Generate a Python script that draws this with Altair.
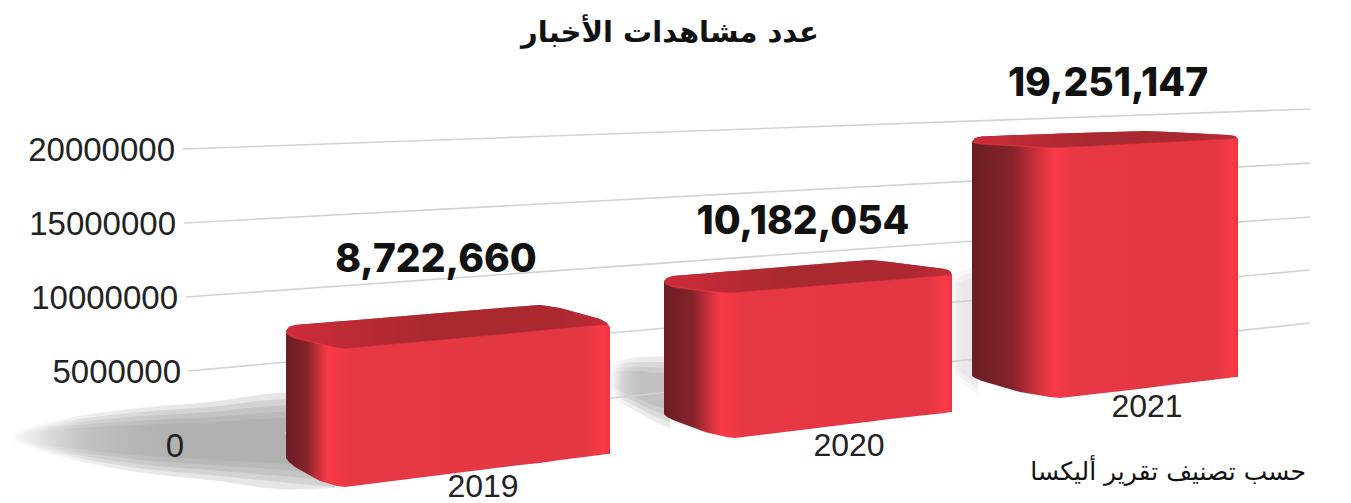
import altair as alt
import pandas as pd

# chart values
years = ["2019", "2020", "2021"]
views = [8722660, 10182054, 19251147]
view_label_x = [436, 803, 1108]
view_label_m = [12.50, 15.06, 24.39]
year_label_x = [483, 849, 1147]
year_label_m = [-2.84, -0.07, 2.57]

ticks = [0, 5000000, 10000000, 15000000, 20000000]
tick_labels = ["0", "5000000", "10000000", "15000000", "20000000"]
tick_label_right = [184, 181, 178, 176, 175]
grid_start_x = [285, 188, 186, 184, 183]
grid_start_m = [0.80, 5.0, 10.0, 15.0, 20.0]
grid_end_m = [8.24, 11.82, 15.41, 19.05, 22.70]
GRID_END = 1310

# outlines of the bars (x position, heights in millions)
bar_x = {
    "2019": [286, 289, 295, 320, 337, 345, 520, 540, 560, 600, 607, 610],
    "2020": [664, 667, 673, 705, 726, 735, 850, 871, 890, 945, 950, 952],
    "2021": [972, 975, 982, 1020, 1050, 1060, 1130, 1147, 1170, 1228, 1235, 1238],
}
bar_top = {
    "2019": [7.70, 7.97, 8.11, 8.24, 8.34, 8.38, 9.36, 9.46, 9.26, 8.51, 8.24, 7.91],
    "2020": [11.08, 11.28, 11.42, 11.59, 11.72, 11.76, 12.40, 12.50, 12.37, 11.89, 11.76, 11.49],
    "2021": [20.47, 20.74, 20.85, 20.95, 21.01, 21.05, 21.18, 21.22, 21.15, 20.95, 20.88, 20.68],
}
bar_bottom = {
    "2019": [-0.88, -1.15, -1.49, -2.43, -2.77, -2.84, -1.35, -1.22, -1.01, -0.68, -0.61, -0.61],
    "2020": [2.09, 1.89, 1.69, 0.88, 0.54, 0.47, 1.42, 1.59, 1.76, 2.16, 2.23, 2.23],
    "2021": [4.66, 4.53, 4.32, 3.58, 3.24, 3.18, 3.72, 3.85, 4.05, 4.53, 4.59, 4.59],
}
bar_edge = {
    "2019": [7.57, 7.43, 7.23, 6.82, 6.55, 6.49, 7.57, 7.70, 7.84, 8.07, 8.11, 7.91],
    "2020": [11.01, 10.88, 10.68, 10.41, 10.27, 10.27, 10.91, 11.01, 11.12, 11.42, 11.45, 11.49],
    "2021": [20.47, 20.41, 20.34, 20.20, 20.07, 20.07, 20.30, 20.37, 20.44, 20.64, 20.68, 20.68],
}
side_fraction = {"2019": 0.13, "2020": 0.20, "2021": 0.31}

# soft shadows: (x list, top list, bottom list, darkness)
s1_x = [10, 60, 130, 210, 290, 335]
s2_x = [610, 635, 650, 670]
s3_x = [950, 965, 978]
shadow_rings = [
    (s1_x, [0.85, 1.71, 2.43, 2.91, 3.54, 3.27], [0.23, -0.77, -1.75, -2.37, -3.00, -2.90], 0.24),
    (s1_x, [0.81, 1.55, 2.16, 2.57, 3.11, 2.84], [0.27, -0.61, -1.48, -2.03, -2.57, -2.84], 0.24),
    (s1_x, [0.77, 1.39, 1.89, 2.23, 2.68, 2.41], [0.31, -0.45, -1.21, -1.69, -2.14, -2.41], 0.24),
    (s1_x, [0.73, 1.23, 1.61, 1.88, 2.26, 1.99], [0.35, -0.29, -0.93, -1.34, -1.72, -1.99], 0.24),
    (s1_x, [0.69, 1.06, 1.34, 1.54, 1.83, 1.56], [0.39, -0.12, -0.66, -1.00, -1.29, -1.56], 0.24),
    (s2_x, [5.53, 5.91, 5.96, 6.02], [3.25, 2.33, 1.74, 1.14], 0.2),
    (s2_x, [5.34, 5.61, 5.61, 5.61], [3.44, 2.63, 2.09, 1.55], 0.2),
    (s2_x, [5.15, 5.31, 5.26, 5.20], [3.63, 2.93, 2.44, 1.96], 0.2),
    (s2_x, [4.96, 5.01, 4.91, 4.80], [3.82, 3.23, 2.79, 2.36], 0.2),
    (s3_x, [11.49, 11.82, 12.16], [4.73, 4.05, 3.38], 0.08),
    (s3_x, [11.15, 11.49, 11.82], [5.07, 4.39, 3.72], 0.08),
    (s3_x, [10.81, 11.15, 11.49], [5.41, 4.73, 4.05], 0.08),
]

title_text = "عدد مشاهدات الأخبار"
source_text = "حسب تصنيف تقرير أليكسا"
title_pos = (670, 27.83)
source_pos = (1306, -1.82)

M = 1_000_000
x_scale = alt.Scale(domain=[8, 1343], nice=False, zero=False)
y_scale = alt.Scale(domain=[-3.92 * M, 29.53 * M], nice=False, zero=False)
X = lambda f: alt.X(f, type="quantitative", scale=x_scale, axis=None)
Y = lambda f: alt.Y(f, type="quantitative", scale=y_scale, axis=None)
Y2 = lambda f: alt.Y2(f)


def stops(*pairs):
    return [alt.GradientStop(offset=o, color=c) for o, c in pairs]


def grad(*pairs):
    return alt.Gradient(gradient="linear", x1=0, x2=1, y1=0, y2=0, stops=stops(*pairs))


layers = []

# shadows
for xs, tops, bottoms, dark in shadow_rings:
    df = pd.DataFrame({"x": xs, "t": [v * M for v in tops], "b": [v * M for v in bottoms]})
    layers.append(
        alt.Chart(df)
        .mark_area(
            interpolate="monotone",
            fill=grad((0, "rgba(150,150,150,0)"), (0.25, "rgba(150,150,150,0.7)"), (0.5, "rgba(150,150,150,1)"), (1, "rgba(150,150,150,1)")),
            opacity=dark,
        )
        .encode(x=X("x"), y=Y("t"), y2=Y2("b"))
    )

# grid
grid = pd.DataFrame(
    {
        "x": grid_start_x,
        "x2": [GRID_END] * len(ticks),
        "y": [v * M for v in grid_start_m],
        "y2": [v * M for v in grid_end_m],
    }
)
layers.append(
    alt.Chart(grid)
    .mark_rule(color="#d2d2d2", strokeWidth=1.6)
    .encode(x=X("x"), x2=alt.X2("x2"), y=Y("y"), y2=Y2("y2"))
)

# bars
for yr in years:
    f = side_fraction[yr]
    df = pd.DataFrame(
        {
            "x": bar_x[yr],
            "t": [v * M for v in bar_top[yr]],
            "b": [v * M for v in bar_bottom[yr]],
            "e": [v * M for v in bar_edge[yr]],
        }
    )
    layers.append(
        alt.Chart(df)
        .mark_area(
            fill=grad(
                (0, "#6a1d23"),
                (f * 0.5, "#86232b"),
                (f * 0.85, "#dc333f"),
                (f, "#f93a48"),
                (f + 0.08, "#e63744"),
                (0.92, "#e23743"),
                (0.98, "#fb3a47"),
                (1, "#ee3441"),
            ),
        )
        .encode(x=X("x"), y=Y("t"), y2=Y2("b"))
    )
    layers.append(
        alt.Chart(df)
        .mark_area(
            fill=grad((0, "#cf2c3a"), (0.15, "#c02a37"), (0.45, "#a8292f"), (0.85, "#ac2831"), (1, "#c22c38")),
        )
        .encode(x=X("x"), y=Y("t"), y2=Y2("e"))
    )
    layers.append(
        alt.Chart(df)
        .mark_line(color="#ef3a48", strokeWidth=1.5, opacity=0.5)
        .encode(x=X("x"), y=Y("e"))
    )

# value labels
vals = pd.DataFrame(
    {"x": view_label_x, "y": [v * M for v in view_label_m], "v": views}
)
layers.append(
    alt.Chart(vals)
    .mark_text(font="Inter", fontSize=39, fontWeight=800, color="#111111", baseline="middle", align="center")
    .encode(x=X("x"), y=Y("y"), text=alt.Text("v:Q", format=",d"))
)

# year labels
yrs = pd.DataFrame({"x": year_label_x, "y": [v * M for v in year_label_m], "t": years})
layers.append(
    alt.Chart(yrs)
    .mark_text(font="Liberation Sans", fontSize=32, color="#222222", baseline="middle", align="center")
    .encode(x=X("x"), y=Y("y"), text="t:N")
)

# value axis labels
tl = pd.DataFrame({"x": tick_label_right, "y": ticks, "t": tick_labels})
layers.append(
    alt.Chart(tl)
    .mark_text(font="Liberation Sans", fontSize=33, color="#222222", baseline="middle", align="right", dy=2)
    .encode(x=X("x"), y=Y("y"), text="t:N")
)

# title and source
t_df = pd.DataFrame({"x": [title_pos[0]], "y": [title_pos[1] * M], "t": [title_text]})
layers.append(
    alt.Chart(t_df)
    .mark_text(font="DejaVu Sans", fontSize=29, fontWeight="bold", color="#111111", baseline="middle", align="center")
    .encode(x=X("x"), y=Y("y"), text="t:N")
)
s_df = pd.DataFrame({"x": [source_pos[0]], "y": [source_pos[1] * M], "t": [source_text]})
layers.append(
    alt.Chart(s_df)
    .mark_text(font="DejaVu Sans", fontSize=25, color="#111111", baseline="middle", align="right")
    .encode(x=X("x"), y=Y("y"), text="t:N")
)

chart = (
    alt.layer(*layers)
    .properties(width=1335, height=495, padding=0, autosize=alt.AutoSizeParams(type="none"))
    .configure_view(stroke=None)
)

chart.save("out.html", embed_options={"renderer": "svg", "actions": False})
